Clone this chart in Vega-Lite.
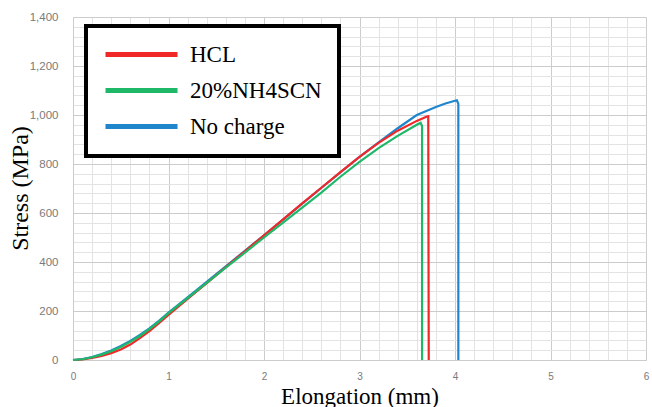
{
  "$schema": "https://vega.github.io/schema/vega-lite/v6.json",
  "width": 573,
  "height": 343,
  "autosize": "none",
  "padding": {"left": 73, "top": 17, "right": 6, "bottom": 47},
  "background": "white",
  "config": {"view": {"stroke": null}},
  "data": {"values": [
    {"series": "No charge", "i": 0, "x": 0, "y": 0},
    {"series": "No charge", "i": 1, "x": 0.1, "y": 4},
    {"series": "No charge", "i": 2, "x": 0.2, "y": 12},
    {"series": "No charge", "i": 3, "x": 0.3, "y": 24},
    {"series": "No charge", "i": 4, "x": 0.4, "y": 39},
    {"series": "No charge", "i": 5, "x": 0.5, "y": 57},
    {"series": "No charge", "i": 6, "x": 0.6, "y": 78},
    {"series": "No charge", "i": 7, "x": 0.7, "y": 102},
    {"series": "No charge", "i": 8, "x": 0.8, "y": 129},
    {"series": "No charge", "i": 9, "x": 0.9, "y": 160},
    {"series": "No charge", "i": 10, "x": 1.0, "y": 193},
    {"series": "No charge", "i": 11, "x": 1.2, "y": 256},
    {"series": "No charge", "i": 12, "x": 1.4, "y": 319},
    {"series": "No charge", "i": 13, "x": 1.6, "y": 382},
    {"series": "No charge", "i": 14, "x": 1.8, "y": 446},
    {"series": "No charge", "i": 15, "x": 2.0, "y": 509},
    {"series": "No charge", "i": 16, "x": 2.2, "y": 573},
    {"series": "No charge", "i": 17, "x": 2.4, "y": 638},
    {"series": "No charge", "i": 18, "x": 2.6, "y": 702},
    {"series": "No charge", "i": 19, "x": 2.8, "y": 766},
    {"series": "No charge", "i": 20, "x": 3.0, "y": 829},
    {"series": "No charge", "i": 21, "x": 3.2, "y": 888},
    {"series": "No charge", "i": 22, "x": 3.4, "y": 946},
    {"series": "No charge", "i": 23, "x": 3.6, "y": 1000},
    {"series": "No charge", "i": 24, "x": 3.8, "y": 1033},
    {"series": "No charge", "i": 25, "x": 3.9, "y": 1047},
    {"series": "No charge", "i": 26, "x": 4.0, "y": 1058},
    {"series": "No charge", "i": 27, "x": 4.02, "y": 1060},
    {"series": "No charge", "i": 28, "x": 4.035, "y": 1045},
    {"series": "No charge", "i": 29, "x": 4.035, "y": 0},
    {"series": "HCL", "i": 0, "x": 0, "y": 0},
    {"series": "HCL", "i": 1, "x": 0.1, "y": 2},
    {"series": "HCL", "i": 2, "x": 0.2, "y": 8},
    {"series": "HCL", "i": 3, "x": 0.3, "y": 17},
    {"series": "HCL", "i": 4, "x": 0.4, "y": 28},
    {"series": "HCL", "i": 5, "x": 0.5, "y": 43},
    {"series": "HCL", "i": 6, "x": 0.6, "y": 63},
    {"series": "HCL", "i": 7, "x": 0.7, "y": 89},
    {"series": "HCL", "i": 8, "x": 0.8, "y": 118},
    {"series": "HCL", "i": 9, "x": 0.9, "y": 150},
    {"series": "HCL", "i": 10, "x": 1.0, "y": 184},
    {"series": "HCL", "i": 11, "x": 1.2, "y": 249},
    {"series": "HCL", "i": 12, "x": 1.4, "y": 314},
    {"series": "HCL", "i": 13, "x": 1.6, "y": 379},
    {"series": "HCL", "i": 14, "x": 1.8, "y": 444},
    {"series": "HCL", "i": 15, "x": 2.0, "y": 509},
    {"series": "HCL", "i": 16, "x": 2.2, "y": 574},
    {"series": "HCL", "i": 17, "x": 2.4, "y": 639},
    {"series": "HCL", "i": 18, "x": 2.6, "y": 703},
    {"series": "HCL", "i": 19, "x": 2.8, "y": 767},
    {"series": "HCL", "i": 20, "x": 3.0, "y": 829},
    {"series": "HCL", "i": 21, "x": 3.2, "y": 886},
    {"series": "HCL", "i": 22, "x": 3.4, "y": 936},
    {"series": "HCL", "i": 23, "x": 3.6, "y": 976},
    {"series": "HCL", "i": 24, "x": 3.7, "y": 993},
    {"series": "HCL", "i": 25, "x": 3.72, "y": 995},
    {"series": "HCL", "i": 26, "x": 3.725, "y": 0},
    {"series": "20%NH4SCN", "i": 0, "x": 0, "y": 0},
    {"series": "20%NH4SCN", "i": 1, "x": 0.1, "y": 3},
    {"series": "20%NH4SCN", "i": 2, "x": 0.2, "y": 11},
    {"series": "20%NH4SCN", "i": 3, "x": 0.3, "y": 22},
    {"series": "20%NH4SCN", "i": 4, "x": 0.4, "y": 36},
    {"series": "20%NH4SCN", "i": 5, "x": 0.5, "y": 53},
    {"series": "20%NH4SCN", "i": 6, "x": 0.6, "y": 74},
    {"series": "20%NH4SCN", "i": 7, "x": 0.7, "y": 98},
    {"series": "20%NH4SCN", "i": 8, "x": 0.8, "y": 126},
    {"series": "20%NH4SCN", "i": 9, "x": 0.9, "y": 157},
    {"series": "20%NH4SCN", "i": 10, "x": 1.0, "y": 191},
    {"series": "20%NH4SCN", "i": 11, "x": 1.2, "y": 253},
    {"series": "20%NH4SCN", "i": 12, "x": 1.4, "y": 315},
    {"series": "20%NH4SCN", "i": 13, "x": 1.6, "y": 377},
    {"series": "20%NH4SCN", "i": 14, "x": 1.8, "y": 438},
    {"series": "20%NH4SCN", "i": 15, "x": 2.0, "y": 500},
    {"series": "20%NH4SCN", "i": 16, "x": 2.2, "y": 561},
    {"series": "20%NH4SCN", "i": 17, "x": 2.4, "y": 622},
    {"series": "20%NH4SCN", "i": 18, "x": 2.6, "y": 683},
    {"series": "20%NH4SCN", "i": 19, "x": 2.8, "y": 748},
    {"series": "20%NH4SCN", "i": 20, "x": 3.0, "y": 809},
    {"series": "20%NH4SCN", "i": 21, "x": 3.2, "y": 865},
    {"series": "20%NH4SCN", "i": 22, "x": 3.4, "y": 915},
    {"series": "20%NH4SCN", "i": 23, "x": 3.6, "y": 960},
    {"series": "20%NH4SCN", "i": 24, "x": 3.64, "y": 968},
    {"series": "20%NH4SCN", "i": 25, "x": 3.655, "y": 955},
    {"series": "20%NH4SCN", "i": 26, "x": 3.655, "y": 0}
  ]},
  "mark": {"type": "line", "strokeWidth": 2.2, "interpolate": "linear"},
  "encoding": {
    "x": {
      "field": "x", "type": "quantitative",
      "scale": {"domain": [0, 6], "nice": false, "zero": true},
      "axis": {
        "values": [0,0.2,0.4,0.6,0.8,1,1.2,1.4,1.6,1.8,2,2.2,2.4,2.6,2.8,3,3.2,3.4,3.6,3.8,4,4.2,4.4,4.6,4.8,5,5.2,5.4,5.6,5.8,6],
        "labelExpr": "abs(datum.value - round(datum.value)) < 0.001 ? format(datum.value, 'd') : ''",
        "labelOverlap": false,
        "grid": true,
        "gridColor": {"condition": {"test": "abs(datum.value - round(datum.value)) < 0.001", "value": "#cccccc"}, "value": "#e3e3e3"},
        "gridWidth": 1,
        "ticks": false,
        "domain": true,
        "domainColor": "#cccccc",
        "labelFont": "Liberation Sans",
        "labelFontSize": 10,
        "labelColor": "#7a7a7a",
        "labelPadding": 11,
        "labelFlush": false,
        "title": "Elongation (mm)",
        "titleFont": "Liberation Serif",
        "titleFontSize": 23,
        "titleFontWeight": "normal",
        "titleColor": "black",
        "titleBaseline": "alphabetic",
        "titleY": 43
      }
    },
    "y": {
      "field": "y", "type": "quantitative",
      "scale": {"domain": [0, 1400], "nice": false},
      "axis": {
        "values": [0,40,80,120,160,200,240,280,320,360,400,440,480,520,560,600,640,680,720,760,800,840,880,920,960,1000,1040,1080,1120,1160,1200,1240,1280,1320,1360,1400],
        "labelExpr": "datum.value % 200 === 0 ? format(datum.value, ',') : ''",
        "labelOverlap": false,
        "grid": true,
        "gridColor": {"condition": {"test": "datum.value % 200 === 0", "value": "#cccccc"}, "value": "#e3e3e3"},
        "gridWidth": 1,
        "ticks": false,
        "domain": true,
        "domainColor": "#cccccc",
        "labelFont": "Liberation Sans",
        "labelFontSize": 11.5,
        "labelColor": "#7a7a7a",
        "labelPadding": 15,
        "labelFlush": false,
        "title": "Stress (MPa)",
        "titleFont": "Liberation Serif",
        "titleFontSize": 24,
        "titleFontWeight": "normal",
        "titleColor": "black",
        "titleBaseline": "middle",
        "titleX": -53,
        "titleY": 171
      }
    },
    "color": {
      "field": "series", "type": "nominal",
      "scale": {"domain": ["HCL", "20%NH4SCN", "No charge"], "range": ["#f02828", "#1fb868", "#1f86cc"]},
      "legend": {
        "title": null,
        "orient": "none",
        "legendX": 13,
        "legendY": 9,
        "fillColor": "white",
        "strokeColor": "black",
        "padding": 17,
        "symbolType": "stroke",
        "symbolSize": 5184,
        "symbolStrokeWidth": 5,
        "clipHeight": 23,
        "labelFont": "Liberation Serif",
        "labelFontSize": 23,
        "labelColor": "black",
        "labelOffset": 10,
        "labelLimit": 300,
        "rowPadding": 12,
        "encode": {"legend": {"update": {"strokeWidth": {"value": 4}}}}
      }
    },
    "order": {"field": "i", "type": "quantitative"}
  }
}
